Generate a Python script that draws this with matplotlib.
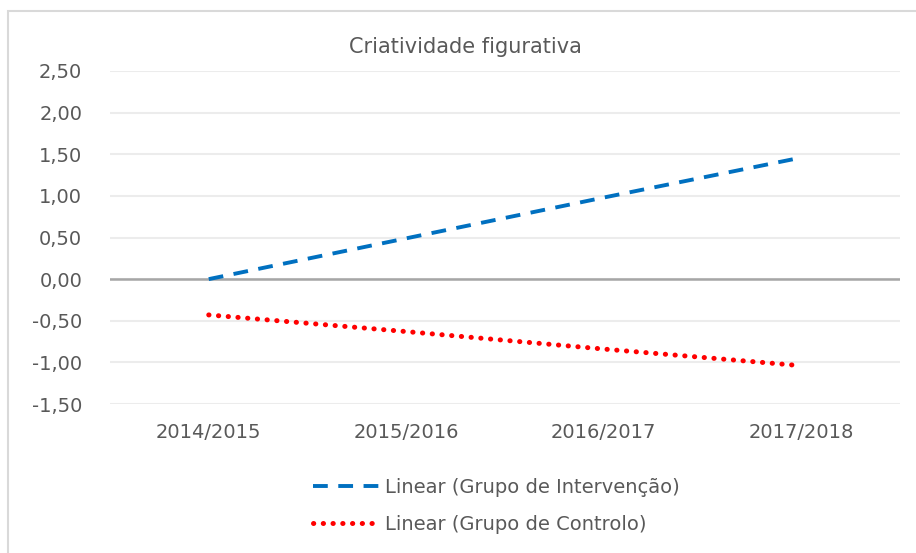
import numpy as np
import matplotlib
matplotlib.use('Agg')
import matplotlib.pyplot as plt
from matplotlib.patches import Rectangle
from matplotlib.ticker import FuncFormatter

# data (linear trendlines)
years = ['2014/2015', '2015/2016', '2016/2017', '2017/2018']
intervencao = [0.00, 0.49, 0.98, 1.46]
controlo = [-0.43, -0.63, -0.84, -1.04]
y_ticks = [-1.5, -1.0, -0.5, 0.0, 0.5, 1.0, 1.5, 2.0, 2.5]

text_col = '#595959'
plt.rcParams['font.family'] = ['DejaVu Sans']

fig = plt.figure(figsize=(9.16, 5.53), dpi=100)
ax = fig.add_axes([110/916, 1-404/553, 790/916, 333/553])

x = np.arange(len(years))
ax.plot(x, intervencao, color='#0070c0', lw=2.8, linestyle=(0, (3.8, 2.7)),
        label='Linear (Grupo de Intervenção)')
ax.plot(x, controlo, color='#ff0000', lw=3.6, linestyle=(0, (0.05, 1.9)),
        dash_capstyle='round', label='Linear (Grupo de Controlo)')

ax.set_xlim(-0.5, 3.5)
ax.set_ylim(-1.5, 2.5)
ax.set_xticks(x)
ax.set_xticklabels(years)
ax.set_yticks(y_ticks)
ax.yaxis.set_major_formatter(FuncFormatter(lambda v, p: ('%.2f' % v).replace('.', ',')))
ax.tick_params(length=0, labelsize=14, colors=text_col)
ax.tick_params(axis='y', pad=20)
ax.tick_params(axis='x', pad=14)
for s in ax.spines.values():
    s.set_visible(False)
ax.grid(axis='y', color='#ececec', lw=1.5)
ax.axhline(0, color='#a6a6a6', lw=1.8, zorder=1)
ax.set_axisbelow(True)

fig.text(465/916, 1-47/553, 'Criatividade figurativa', ha='center', va='center',
         fontsize=15, color=text_col)

fig.legend(loc='center left', bbox_to_anchor=(313/916, 1-506/553), frameon=False,
           fontsize=14, labelcolor=text_col, handlelength=3.4, handletextpad=0.3,
           labelspacing=0.95, borderpad=0, borderaxespad=0)

# chart area border
fig.patches.append(Rectangle((8/916, -0.1), 1.0, 1.1 - 11/553, transform=fig.transFigure,
                             fill=False, edgecolor='#d9d9d9', lw=1.5))

fig.savefig('out.png', dpi=100)
